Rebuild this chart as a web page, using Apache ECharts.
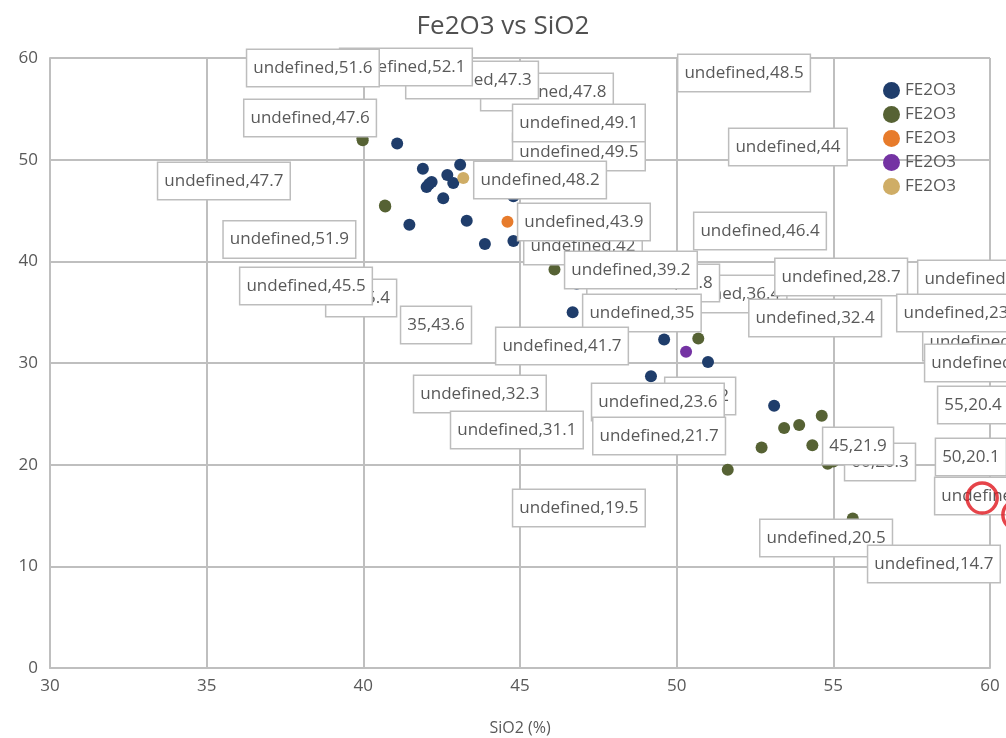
<!DOCTYPE html>
<html>
<head>
<meta charset="utf-8">
<script src="https://cdn.jsdelivr.net/npm/echarts@6/dist/echarts.min.js"></script>
<style>
  html, body { margin: 0; padding: 0; background: #ffffff; }
  #chart { width: 1006px; height: 738px; }
</style>
</head>
<body>
<div id="chart"></div>
<script>
// Legend entries (every series carries the same caption) and their marker colours
const legendNames = ['FE2O3', 'FE2O3', 'FE2O3', 'FE2O3', 'FE2O3'];
const seriesColors = ['#1f3d6b', '#566234', '#e77b2b', '#7433a3', '#cfad66'];

// Samples, listed in the stacking order of their callout boxes (bottom first)
const group  = [0, 0, 1, 0, 0, 0, 4, 0, 0, 0, 0, 0, 2, 0, 1, 0, 0, 1, 0, 0,
                1, 1, 0, 0, 1, 0, 1, 1, 0, 0, 3, 0, 1, 1, 1, 1, 1, 1, 1, 1, 1, 1];
const silica = [42.18, 42.02, 39.97, 41.08, 43.09, 41.90, 43.19, 42.68, 42.10, 42.87,
                43.30, 44.79, 44.60, 44.79, 39.98, 49.00, 46.81, 46.10, 49.18, 51.00,
                40.70, 40.69, 41.47, 46.68, 50.69, 53.11, 54.63, 53.91, 43.88, 49.60,
                50.30, 42.55, 53.43, 52.71, 56.00, 55.00, 54.33, 54.82, 59.60, 51.63,
                56.40, 55.62];
const iron   = [47.8, 47.3, 52.1, 51.6, 49.5, 49.1, 48.2, 48.5, 47.6, 47.7,
                44, 42, 43.9, 46.4, 51.9, 36.4, 37.8, 39.2, 28.7, 30.1,
                45.4, 45.5, 43.6, 35, 32.4, 25.8, 24.8, 23.9, 41.7, 32.3,
                31.1, 46.2, 23.6, 21.7, 20.4, 20.3, 21.9, 20.1, 16.9, 19.5,
                20.5, 14.7];
const tag    = ['undefined', 'undefined', 'undefined', 'undefined', 'undefined', 'undefined', 'undefined', 'undefined', 'undefined', 'undefined',
                'undefined', 'undefined', 'undefined', 'undefined', 'undefined', 'undefined', 'undefined', 'undefined', 'undefined', 'undefined',
                '40', 'undefined', '35', 'undefined', 'undefined', 'undefined', 'undefined', 'undefined', 'undefined', 'undefined',
                'undefined', '45', 'undefined', 'undefined', '55', '60', '45', '50', 'undefined', 'undefined',
                'undefined', 'undefined'];

// Where each callout box sits, in axis units (SiO2, Fe2O3)
const labelAt = [
  [45.86, 56.66], [43.47, 57.84], [41.36, 59.11], [38.39, 59.02], [46.88, 50.75],
  [46.88, 53.61], [45.64, 48.00], [52.15, 58.52], [38.30, 54.10], [35.55, 47.90],
  [53.55, 51.25], [47.01, 41.51], [47.04, 43.87], [52.66, 42.98], [37.64, 42.15],
  [51.40, 36.79], [49.25, 37.87], [48.54, 39.15], [55.25, 38.46], [59.81, 38.26],
  [39.93, 36.39], [38.17, 37.57], [42.32, 33.74], [48.89, 34.92], [54.42, 34.43],
  [59.97, 32.07], [60.03, 30.00], [59.14, 34.92], [46.34, 31.67], [43.72, 26.95],
  [44.90, 23.41], [50.75, 26.75], [49.40, 26.16], [49.44, 22.82], [59.46, 25.87],
  [56.49, 20.26], [55.79, 21.84], [59.39, 20.75], [60.35, 16.92], [46.88, 15.74],
  [54.77, 12.79], [58.21, 10.23]
];

// Red hand-drawn style rings marking a callout
const rings = [[59.75, 16.72], [60.89, 15.05]];

const FONT = '"Open Sans", "Noto Sans", sans-serif';
const TEXT = '#595959';
const GRID_LINE = '#bfbfbf';

const chart = echarts.init(document.getElementById('chart'), null, { renderer: 'canvas' });

const pointSeries = legendNames.map((name, g) => ({
  type: 'scatter',
  name: name + ' #' + (g + 1),
  symbol: 'circle',
  symbolSize: 12,
  itemStyle: { color: seriesColors[g], opacity: 1 },
  emphasis: { disabled: true },
  silent: true,
  z: 2,
  data: silica.map((x, i) => [x, iron[i], i]).filter(d => group[d[2]] === g).map(d => [d[0], d[1]])
}));

const calloutSeries = {
  type: 'custom',
  name: 'callouts',
  silent: true,
  clip: false,
  z: 5,
  data: labelAt,
  renderItem: (params, api) => {
    const i = params.dataIndex;
    const p = api.coord([api.value(0), api.value(1)]);
    return {
      type: 'text',
      x: p[0],
      y: p[1],
      z2: i,
      style: {
        text: tag[i] + ',' + iron[i],
        align: 'center',
        verticalAlign: 'middle',
        fill: TEXT,
        font: '17px ' + FONT,
        lineHeight: 20,
        backgroundColor: '#ffffff',
        borderColor: '#bdbdbd',
        borderWidth: 1.5,
        padding: [8, 6, 8, 6]
      }
    };
  }
};

const ringSeries = {
  type: 'scatter',
  name: 'rings',
  symbol: 'circle',
  symbolSize: 30,
  clip: false,
  silent: true,
  z: 8,
  itemStyle: { color: 'rgba(0,0,0,0)', borderColor: '#e0151d', borderWidth: 3.5 },
  data: rings
};

chart.setOption({
  backgroundColor: '#ffffff',
  animation: false,
  title: {
    text: 'Fe2O3 vs SiO2',
    left: 'center',
    top: 9,
    textStyle: { fontFamily: FONT, fontSize: 26, fontWeight: 'normal', color: '#505050' }
  },
  legend: {
    data: pointSeries.map(s => s.name),
    formatter: n => n.split(' #')[0],
    orient: 'vertical',
    left: 878,
    top: 77,
    icon: 'circle',
    itemWidth: 17,
    itemHeight: 17,
    itemGap: 7,
    selectedMode: false,
    textStyle: { fontFamily: FONT, fontSize: 17, color: TEXT, lineHeight: 17 }
  },
  grid: { left: 50, right: 16, top: 58, bottom: 70, containLabel: false, outerBoundsMode: 'none' },
  xAxis: {
    type: 'value',
    min: 30,
    max: 60,
    interval: 5,
    name: 'SiO2 (%)',
    nameLocation: 'middle',
    nameGap: 52,
    nameTextStyle: { fontFamily: FONT, fontSize: 16, color: TEXT },
    axisLine: { show: true, lineStyle: { color: GRID_LINE, width: 2 } },
    axisTick: { show: false },
    axisLabel: { fontFamily: FONT, fontSize: 17, color: TEXT, margin: 10 },
    splitLine: { show: true, lineStyle: { color: GRID_LINE, width: 2 } }
  },
  yAxis: {
    type: 'value',
    min: 0,
    max: 60,
    interval: 10,
    axisLine: { show: true, lineStyle: { color: GRID_LINE, width: 2 } },
    axisTick: { show: false },
    axisLabel: { fontFamily: FONT, fontSize: 17, color: TEXT, margin: 12 },
    splitLine: { show: true, lineStyle: { color: GRID_LINE, width: 2 } }
  },
  series: [...pointSeries, calloutSeries, ringSeries]
});
</script>
</body>
</html>
